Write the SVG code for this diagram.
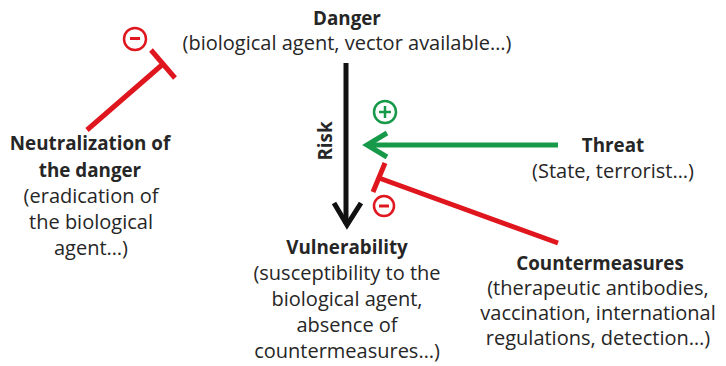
<svg xmlns="http://www.w3.org/2000/svg" width="726" height="366" viewBox="0 0 726 366">
<style>
text{font-family:"Open Sans","Liberation Sans",sans-serif;fill:#262626;text-anchor:middle;font-size:20px}
.b{font-weight:bold;font-size:18.8px}
.red{stroke:#e0161e;fill:none;stroke-width:5;stroke-linecap:butt}
.grn{stroke:#17994a;fill:none;stroke-width:5}
.blk{stroke:#111;fill:none;stroke-width:5}
.sig{fill:none;stroke-width:2.5}
</style>
<rect width="726" height="366" fill="#fff"/>
<g id="connectors">
  <path class="blk" d="M346,63 V224"/>
  <path class="blk" d="M334,203 L347,225 L361,203" stroke-linejoin="miter"/>
  <path class="grn" d="M558,145 H368"/>
  <path class="grn" d="M387,133 L367,145 L387,157"/>
  <path class="red" d="M558,243 L379,178"/>
  <path class="red" d="M385,163 L373,192"/>
  <path class="red" d="M87,130 L163,64"/>
  <path class="red" d="M151,50 L175,78"/>
</g>
<g id="signs">
  <circle class="sig" cx="135" cy="39" r="11" stroke="#e0161e"/>
  <path d="M130,38.5 H140" stroke="#e0161e" stroke-width="3"/>
  <circle class="sig" cx="385" cy="112" r="11" stroke="#17994a"/>
  <path d="M379,112 H391 M385,106 V118" stroke="#17994a" stroke-width="2.5"/>
  <circle class="sig" cx="384" cy="206" r="10" stroke="#e0161e"/>
  <path d="M379,206 H389" stroke="#e0161e" stroke-width="3"/>
</g>
<g id="danger">
  <text class="b" x="347" y="25">Danger</text>
  <text x="347" y="50">(biological agent, vector available…)</text>
</g>
<g id="risk">
  <text class="b" transform="translate(332,141) rotate(-90)">Risk</text>
</g>
<g id="threat">
  <text class="b" x="613" y="152">Threat</text>
  <text x="613" y="178">(State, terrorist…)</text>
</g>
<g id="neutralization">
  <text class="b" x="90" y="150">Neutralization of</text>
  <text class="b" x="90" y="177">the danger</text>
  <text x="91" y="203">(eradication of</text>
  <text x="91" y="229">the biological</text>
  <text x="91" y="255">agent…)</text>
</g>
<g id="vulnerability">
  <text class="b" x="347" y="254">Vulnerability</text>
  <text x="347" y="280">(susceptibility to the</text>
  <text x="347" y="306">biological agent,</text>
  <text x="347" y="332">absence of</text>
  <text x="347" y="358">countermeasures…)</text>
</g>
<g id="countermeasures">
  <text class="b" x="600" y="270">Countermeasures</text>
  <text x="598" y="295">(therapeutic antibodies,</text>
  <text x="598" y="320">vaccination, international</text>
  <text x="598" y="345">regulations, detection…)</text>
</g>
</svg>
